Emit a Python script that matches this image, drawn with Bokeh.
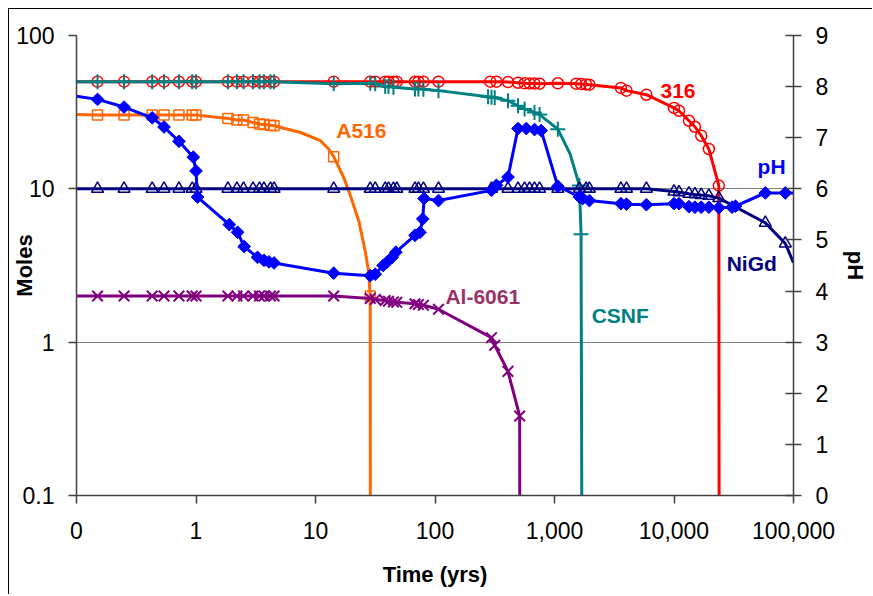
from math import pi
from bokeh.plotting import figure
from bokeh.models import Range1d, FixedTicker, LinearAxis, LinearScale, Label
from bokeh.embed import file_html
from bokeh.resources import INLINE

# ---------------- data ----------------
# 316 stainless steel (moles) - red circles
s316_t = [0.15, 0.25, 0.43, 0.54, 0.72, 0.93, 1.0, 1.85, 2.2, 2.5, 3.0, 3.4, 3.7, 4.2, 4.5,
          14.2, 28.7, 31.6, 38.3, 40.8, 44.9, 47.9, 68, 72.6, 80, 107,
          290, 327, 408, 495, 562, 618, 680, 750,
          1066, 1517, 1668, 1837, 1958, 3594, 4006, 5875,
          10000, 11010, 13335, 14962, 16893, 19573, 23714]
s316_m = [50, 50, 50, 50, 50, 50, 50, 50, 50, 50, 50, 50, 50, 50, 50,
          50, 50, 50, 50, 50, 50, 50, 50, 50, 50, 50,
          50, 50, 49.7, 49.2, 48.8, 48.7, 48.6, 48.5,
          48.8, 48.5, 48.2, 48.0, 47.8, 45.5, 43.7, 41.1,
          33.7, 32.3, 27.8, 25.4, 22.2, 18.2, 10.5]
s316_xt = [0.1, 24200]
s316_xm = [50, 1e-6]

# CSNF (moles) - teal plus
csnf_t = [0.15, 0.25, 0.43, 0.54, 0.72, 0.93, 1.0, 1.85, 2.2, 2.5, 3.0, 3.4, 3.7, 4.2, 4.5,
          14.2, 28.7, 31.6, 38.3, 40.8, 44.9, 68, 72.6, 80, 107,
          278, 297, 316, 408, 495, 562, 680, 750, 1066, 1616, 1668]
csnf_m = [50, 50, 50, 50, 50, 50, 50, 50, 50, 50, 50, 50, 50, 50, 50,
          48.5, 48.8, 48.5, 46.5, 46.5, 46.0, 44.8, 44.8, 44.6, 43.7,
          39.8, 39.5, 39.2, 37.6, 34.8, 33.2, 31.5, 30.5, 24.5, 10.5, 5.06]
csnf_xt = [0.1, 1350, 1760]
csnf_xm = [50, 16.9, 1e-6]

# A516 carbon steel (moles) - orange squares
a516_t = [0.15, 0.25, 0.43, 0.54, 0.72, 0.93, 1.0, 1.85, 2.2, 2.5, 3.0, 3.4, 3.7, 4.2, 4.5,
          14.2, 28.7]
a516_m = [30.3, 30.3, 30.3, 30.3, 30.3, 30.3, 30.3, 28.8, 28.1, 28.1, 27.1, 26.5, 26.3, 26.0, 25.8,
          16.2, 2.0]
a516_xt = [0.1, 7.5, 11.0, 12.9, 17.2, 19.6, 23.0, 26.1, 27.8, 29.0]
a516_xm = [30.5, 23.3, 20.6, 18.2, 11.9, 9.0, 6.2, 3.9, 2.9, 1e-6]

# Al-6061 (moles) - purple x
al_t = [0.15, 0.25, 0.43, 0.54, 0.72, 0.93, 1.0, 1.85, 2.2, 2.5, 3.0, 3.4, 3.7, 4.2, 4.5,
        14.2, 28.7, 31.6, 38.3, 40.8, 44.9, 47.9, 68, 72.6, 80, 107, 297, 316, 408, 511]
al_m = [2.0, 2.0, 2.0, 2.0, 2.0, 2.0, 2.0, 2.0, 2.0, 2.0, 2.0, 2.0, 2.0, 2.0, 2.0,
        2.0, 1.93, 1.9, 1.87, 1.85, 1.83, 1.82, 1.78, 1.76, 1.74, 1.64, 1.07, 0.955, 0.645, 0.33]
al_xt = [0.1, 518]
al_xm = [2.0, 1e-6]

# NiGd (moles) - navy triangles
nigd_t = [0.15, 0.25, 0.43, 0.54, 0.72, 0.93, 1.0, 1.85, 2.2, 2.5, 3.0, 3.4, 3.7, 4.2, 4.5,
          14.2, 28.7, 31.6, 38.3, 40.8, 44.9, 47.9, 68, 72.6, 80, 107,
          297, 408, 495, 562, 618, 680, 750, 1066, 1616, 1837, 1958, 3594, 4006, 5875,
          10000, 11010, 13335, 14962, 16893, 19573, 23714, 58100, 85400]
nigd_m = [10, 10, 10, 10, 10, 10, 10, 10, 10, 10, 10, 10, 10, 10, 10,
          10, 10, 10, 10, 10, 10, 10, 10, 10, 10, 10,
          10, 10, 10, 10, 10, 10, 10, 10, 10, 10, 10, 10, 10, 10,
          9.6, 9.5, 9.3, 9.2, 9.1, 9.0, 8.7, 6.0, 4.4]
nigd_xt = [0.1, 100000]
nigd_xm = [10, 3.3]

# pH (right axis) - blue diamonds
ph_t = [0.15, 0.25, 0.43, 0.54, 0.72, 0.95, 1.0, 1.03, 1.9, 2.23, 2.53, 3.27, 3.71, 4.08, 4.5,
        14.2, 28.7, 31.6, 36.8, 39.8, 43.8, 47.0, 68, 74.9, 79, 81, 107,
        297, 327, 408, 495, 581, 681, 774, 1066, 1616, 1721, 1958, 3594, 4006, 5875,
        10000, 11010, 13335, 14962, 16893, 19573, 23714, 30600, 32700, 58100, 85400]
ph_v = [7.75, 7.60, 7.39, 7.21, 6.93, 6.62, 6.35, 5.84, 5.30, 5.15, 4.87, 4.66, 4.60, 4.57, 4.55,
        4.35, 4.30, 4.33, 4.50, 4.57, 4.66, 4.76, 5.09, 5.15, 5.41, 5.81, 5.77,
        5.97, 6.07, 6.23, 7.18, 7.18, 7.16, 7.14, 6.05, 5.84, 5.81, 5.77, 5.71, 5.70, 5.69,
        5.71, 5.71, 5.65, 5.64, 5.64, 5.64, 5.63, 5.64, 5.66, 5.92, 5.92]
ph_xt = [0.1, 100000]
ph_xv = [7.81, 5.92]

x_ticks = [0.1, 1, 10, 100, 1000, 10000, 100000]
x_tick_labels = ["0", "1", "10", "100", "1,000", "10,000", "100,000"]
y_ticks = [0.1, 1, 10, 100]
y_tick_labels = ["0.1", "1", "10", "100"]
ph_ticks = [0, 1, 2, 3, 4, 5, 6, 7, 8, 9]


def merged(tm, vm, tx, vx):
    pts = sorted(zip(tm + tx, vm + vx), key=lambda q: q[0])
    return [q[0] for q in pts], [q[1] for q in pts]


FONT = "Liberation Sans"

p = figure(width=864, height=586, x_axis_type="log", y_axis_type="log",
           x_range=Range1d(0.1, 100000), y_range=Range1d(0.1, 100),
           output_backend="svg", toolbar_location=None,
           min_border_left=66, min_border_right=80, min_border_top=26, min_border_bottom=100)
p.styles = {"margin-left": "8px", "margin-top": "8px",
            "border-top": "1px solid #000000", "border-left": "1px solid #000000"}
p.outline_line_color = None
p.background_fill_color = "white"
p.border_fill_color = "white"
p.extra_y_ranges = {"ph": Range1d(0, 9)}
p.extra_y_scales = {"ph": LinearScale()}

p.xgrid.visible = False
p.ygrid.ticker = FixedTicker(ticks=y_ticks)
p.ygrid.grid_line_color = "#808080"
p.ygrid.grid_line_width = 1

ax = p.xaxis[0]
ax.ticker = FixedTicker(ticks=x_ticks)
ax.major_label_overrides = dict(zip(x_ticks, x_tick_labels))
ax.axis_label = "Time (yrs)"
ay = p.yaxis[0]
ay.ticker = FixedTicker(ticks=y_ticks)
ay.major_label_overrides = dict(zip(y_ticks, y_tick_labels))
ay.axis_label = "Moles"

ar = LinearAxis(y_range_name="ph", ticker=FixedTicker(ticks=ph_ticks))
ar.axis_label = "pH"
p.add_layout(ar, "right")

for a in (ax, ay, ar):
    a.axis_line_color = "#404040"
    a.axis_line_width = 1.5
    a.major_tick_line_color = "#404040"
    a.major_tick_line_width = 1.5
    a.minor_tick_line_color = None
    a.major_tick_out = 8
    a.major_tick_in = 0
    a.major_label_text_font = FONT
    a.major_label_text_font_size = "23px"
    a.major_label_text_color = "black"
    a.axis_label_text_font = FONT
    a.axis_label_text_font_size = "22px"
    a.axis_label_text_font_style = "bold"
    a.axis_label_text_color = "black"
ar.major_tick_in = 8
ax.major_label_standoff = 18
ay.major_label_standoff = 14
ar.major_label_standoff = 14
ax.axis_label_standoff = 20
ay.axis_label_standoff = -24
ar.axis_label_standoff = 12

RED, TEAL, ORANGE, PURPLE, NAVY, BLUE = "#FF0000", "#008080", "#FF6600", "#800080", "#000080", "#0000FF"
LW = 3

# 316
lx, ly = merged(s316_t, s316_m, s316_xt, s316_xm)
p.line(lx, ly, line_color=RED, line_width=LW)
p.scatter(s316_t, s316_m, marker="circle", size=11, fill_color=None, line_color=RED, line_width=1.5)
# A516
lx, ly = merged(a516_t, a516_m, a516_xt, a516_xm)
p.line(lx, ly, line_color=ORANGE, line_width=LW)
p.scatter(a516_t, a516_m, marker="square", size=10, fill_color=None, line_color=ORANGE, line_width=1.5)
# Al-6061
lx, ly = merged(al_t, al_m, al_xt, al_xm)
p.line(lx, ly, line_color=PURPLE, line_width=LW)
p.scatter(al_t, al_m, marker="x", size=15, line_color=PURPLE, line_width=2)
# CSNF
lx, ly = merged(csnf_t, csnf_m, csnf_xt, csnf_xm)
p.line(lx, ly, line_color=TEAL, line_width=LW)
p.scatter(csnf_t, csnf_m, marker="cross", size=15, line_color=TEAL, line_width=2)
# NiGd
lx, ly = merged(nigd_t, nigd_m, nigd_xt, nigd_xm)
p.line(lx, ly, line_color=NAVY, line_width=LW)
p.scatter(nigd_t, nigd_m, marker="triangle", size=12, fill_color=None, line_color=NAVY, line_width=1.5)
# pH
lx, ly = merged(ph_t, ph_v, ph_xt, ph_xv)
p.line(lx, ly, line_color=BLUE, line_width=LW, y_range_name="ph")
p.scatter(ph_t, ph_v, marker="square", angle=pi / 4, size=9, fill_color=BLUE, line_color=BLUE,
          y_range_name="ph")

# series labels
def lab(text, x, y, color):
    p.add_layout(Label(x=x, y=y, text=text, text_color=color, text_font=FONT,
                       text_font_size="21px", text_font_style="bold",
                       text_align="center", text_baseline="middle"))

lab("A516", 24.2, 23.9, ORANGE)
lab("316", 10800, 43.7, RED)
lab("pH", 65600, 13.9, BLUE)
lab("NiGd", 44700, 3.24, NAVY)
lab("CSNF", 3548, 1.5, TEAL)
lab("Al-6061", 251, 2.0, "#993366")

open("out.html", "w").write(file_html(p, INLINE))
